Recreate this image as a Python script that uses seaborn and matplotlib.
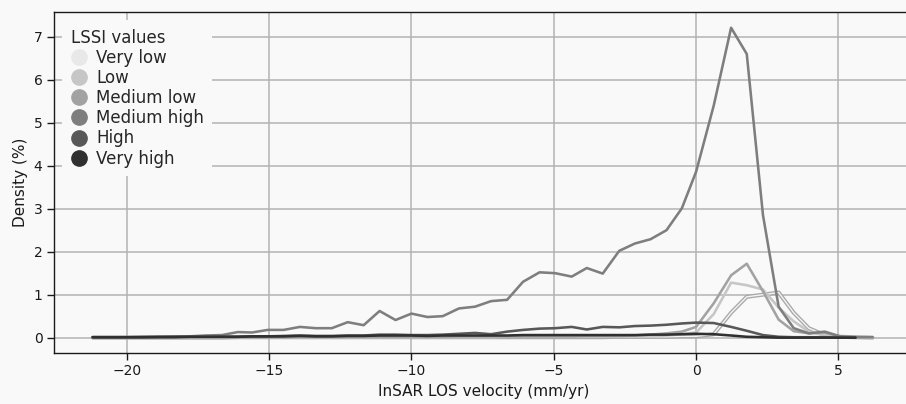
import numpy as np
import pandas as pd
import matplotlib
matplotlib.use("Agg")
import matplotlib.pyplot as plt
from matplotlib.lines import Line2D
import matplotlib.patheffects as pe
import seaborn as sns

# ---------------- data ----------------
velocity = [-21.2, -20.63, -20.06, -19.5, -18.93, -18.36, -17.8, -17.23, -16.66, -16.1,
            -15.6, -15.05, -14.49, -13.92, -13.36, -12.8, -12.24, -11.68, -11.12, -10.56,
            -10.0, -9.44, -8.9, -8.33, -7.77, -7.2, -6.64, -6.08, -5.5, -4.95,
            -4.37, -3.84, -3.28, -2.7, -2.15, -1.6, -1.04, -0.5, 0.0, 0.62,
            1.23, 1.78, 2.35, 2.9, 3.43, 3.96, 4.52, 5.06, 5.6, 6.2]

very_low = [0.0, 0.0, 0.0, 0.0, 0.0, 0.0, 0.0, 0.0, 0.0, 0.01,
            0.01, 0.01, 0.01, 0.01, 0.01, 0.01, 0.01, 0.01, 0.01, 0.01,
            0.01, 0.01, 0.01, 0.01, 0.01, 0.01, 0.01, 0.01, 0.01, 0.01,
            0.01, 0.01, 0.01, 0.02, 0.02, 0.02, 0.02, 0.03, 0.03, 0.08,
            0.58, 0.95, 1.00, 1.05, 0.58, 0.22, 0.06, 0.02, 0.01, 0.0]

low = [0.0, 0.0, 0.0, 0.0, 0.0, 0.0, 0.0, 0.0, 0.0, 0.01,
       0.01, 0.01, 0.01, 0.01, 0.01, 0.01, 0.01, 0.01, 0.01, 0.01,
       0.01, 0.01, 0.01, 0.01, 0.01, 0.01, 0.02, 0.02, 0.02, 0.02,
       0.02, 0.02, 0.02, 0.02, 0.03, 0.03, 0.05, 0.08, 0.12, 0.55,
       1.28, 1.22, 1.12, 0.70, 0.38, 0.14, 0.05, 0.02, 0.01, 0.0]

medium_low = [0.0, 0.0, 0.0, 0.0, 0.01, 0.01, 0.01, 0.01, 0.01, 0.01,
              0.01, 0.01, 0.01, 0.02, 0.02, 0.02, 0.02, 0.02, 0.02, 0.02,
              0.02, 0.02, 0.02, 0.03, 0.03, 0.03, 0.03, 0.03, 0.03, 0.03,
              0.03, 0.04, 0.04, 0.04, 0.05, 0.07, 0.10, 0.14, 0.25, 0.80,
              1.45, 1.72, 1.08, 0.42, 0.15, 0.10, 0.12, 0.03, 0.01, np.nan]

medium_high = [0.01, 0.01, 0.01, 0.02, 0.02, 0.03, 0.03, 0.05, 0.06, 0.13,
               0.12, 0.18, 0.18, 0.25, 0.22, 0.22, 0.36, 0.29, 0.62, 0.41,
               0.56, 0.48, 0.50, 0.68, 0.72, 0.85, 0.88, 1.30, 1.52, 1.50,
               1.42, 1.62, 1.49, 2.02, 2.19, 2.29, 2.50, 3.01, 3.86, 5.40,
               7.21, 6.60, 2.85, 0.72, 0.22, 0.10, 0.14, 0.03, 0.01, 0.01]

high = [0.01, 0.01, 0.01, 0.01, 0.02, 0.02, 0.02, 0.02, 0.02, 0.02,
        0.03, 0.03, 0.04, 0.05, 0.04, 0.04, 0.05, 0.05, 0.07, 0.07,
        0.06, 0.06, 0.07, 0.09, 0.11, 0.08, 0.14, 0.18, 0.21, 0.22,
        0.25, 0.19, 0.25, 0.24, 0.27, 0.28, 0.30, 0.33, 0.35, 0.34,
        0.25, 0.16, 0.06, 0.02, 0.01, 0.01, 0.01, 0.0, 0.0, np.nan]

very_high = [0.01, 0.01, 0.01, 0.01, 0.01, 0.01, 0.02, 0.02, 0.02, 0.02,
             0.03, 0.03, 0.03, 0.04, 0.03, 0.03, 0.04, 0.04, 0.05, 0.05,
             0.05, 0.04, 0.05, 0.05, 0.05, 0.05, 0.05, 0.06, 0.06, 0.06,
             0.06, 0.06, 0.06, 0.06, 0.06, 0.07, 0.07, 0.08, 0.09, 0.08,
             0.05, 0.02, 0.01, 0.0, 0.0, 0.0, 0.0, 0.0, 0.0, np.nan]

categories = ["Very low", "Low", "Medium low", "Medium high", "High", "Very high"]
colors = ["#e8e8e8", "#c6c6c6", "#a2a2a2", "#7e7e7e", "#585858", "#303030"]

legend_title = "LSSI values"
x_label = "InSAR LOS velocity (mm/yr)"
y_label = "Density (%)"
x_ticks = [-20, -15, -10, -5, 0, 5]
y_ticks = [0, 1, 2, 3, 4, 5, 6, 7]

# ---------------- long-form table ----------------
series = [very_low, low, medium_low, medium_high, high, very_high]
frames = []
for cat, vals in zip(categories, series):
    frames.append(pd.DataFrame({"velocity": velocity, "density": vals, "LSSI": cat}))
df = pd.concat(frames, ignore_index=True).dropna()

# ---------------- plot ----------------
sns.set_theme(style="ticks")
bg = "#f9f9f9"
plt.rcParams["font.family"] = ["DejaVu Sans"]

fig = plt.figure(figsize=(9.06, 4.04), dpi=100, facecolor=bg)
ax = fig.add_axes([0.0599, 0.127, 0.9478, 0.8426])
ax.set_facecolor(bg)

palette = dict(zip(categories, colors))
sns.lineplot(data=df, x="velocity", y="density", hue="LSSI", hue_order=categories,
             palette=palette, linewidth=1.85, estimator=None, sort=False,
             legend=False, ax=ax)

# very low line: light core with grey edges
vl_line = ax.lines[0]
vl_line.set_linewidth(1.0)
vl_line.set_color("#f4f4f4")
vl_line.set_path_effects([pe.Stroke(linewidth=2.9, foreground="#a8a8a8"), pe.Normal()])

ax.set_xlim(-22.55, 7.62)
ax.set_ylim(-0.35, 7.57)
ax.set_xticks(x_ticks)
ax.set_yticks(y_ticks)
ax.grid(True, color="#b3b3b3", linewidth=1.1)
ax.set_axisbelow(True)
for s in ["top", "left", "bottom", "right"]:
    ax.spines[s].set_visible(True)
    ax.spines[s].set_color("#1a1a1a")
    ax.spines[s].set_linewidth(1.0)
ax.tick_params(direction="out", length=5, width=1, labelsize=10, colors="#1a1a1a")
ax.set_xlabel(x_label, fontsize=11, color="#1a1a1a")
ax.set_ylabel(y_label, fontsize=11, color="#1a1a1a")

handles = [Line2D([0], [0], marker="o", linestyle="none", markersize=11,
                  markerfacecolor=c, markeredgecolor=c) for c in colors]
leg = ax.legend(handles, categories, title=legend_title, loc="upper left",
                frameon=True, facecolor=bg, edgecolor="none", framealpha=1,
                fontsize=12, title_fontsize=12, handlelength=1.0,
                handletextpad=0.54, labelspacing=0.13, borderaxespad=0.48,
                borderpad=0.5, alignment="left")

fig.savefig("out.png", dpi=100, facecolor=bg)
